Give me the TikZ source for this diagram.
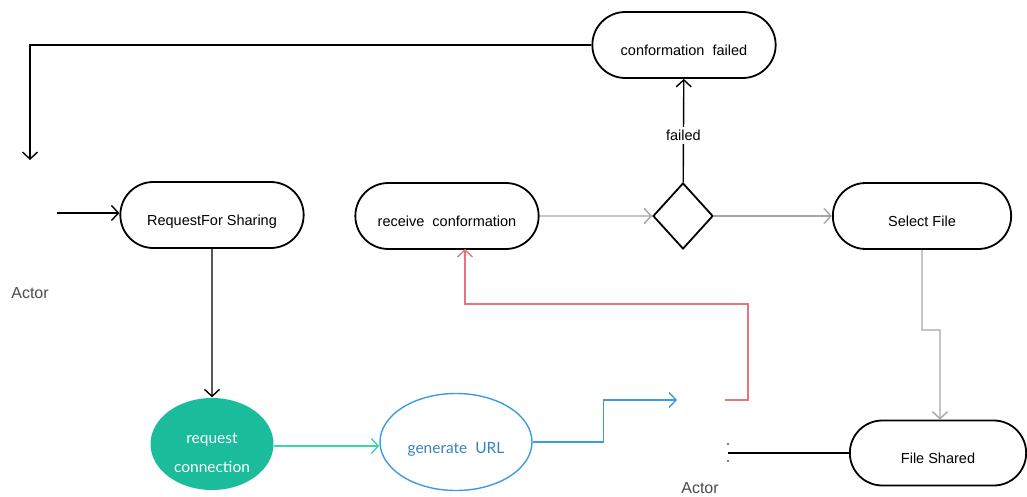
\documentclass[tikz,border=0pt]{standalone}
\usepackage{fontspec}
\setmainfont{Liberation Sans}
\newfontfamily\ellfont{Lato}
\usetikzlibrary{arrows.meta,positioning,shapes.misc,shapes.geometric}

\definecolor{tealfill}{HTML}{1ABC9C}
\definecolor{tealline}{HTML}{3DD6A8}
\definecolor{urlblue}{HTML}{3D9BE0}
\definecolor{urlred}{HTML}{E8737A}
\definecolor{flowgray}{HTML}{A6A6A6}

\begin{document}
\begin{tikzpicture}[
    x = 1pt, y = -1pt, % pixel grid
    > = {Straight Barb[length=7pt,width=15pt]}, % open arrow head
    line width = 1.4pt, % line style
    font = \fontsize{14.5}{17}\selectfont
    ]

    \tikzset{
    activity/.style = {rounded rectangle, draw = black, line width = 1.8pt,
        minimum width = 190pt, minimum height = 66pt,
        text height = 21pt, text depth = 0pt},
    usecase/.style = {ellipse, minimum width = 123pt, minimum height = 92pt,
        align = center, font = \ellfont\fontsize{15.5}{29}\selectfont},
    choice/.style = {diamond, draw = black, line width = 1.8pt, minimum width = 60pt,
        minimum height = 66pt, inner sep = 0pt},
    actorname/.style = {font = \fontsize{16}{18}\selectfont, text = black!70}
    }
    \useasboundingbox (0,0) rectangle (1027,497);

    % activities
    \node[activity] (failedbox) at (684,45) {conformation\ \ failed};
    \node[activity] (request) at (212,215) {RequestFor Sharing};
    \node[activity] (receive) at (447,216) {receive\ \ conformation};
    \node[choice] (check) at (683,216) {};
    \node[activity, minimum width = 185pt] (select) at (922,216) {Select File};
    \node[activity, minimum width = 183pt, minimum height = 65pt] (shared) at (938,453) {File Shared};

    % use cases
    \node[usecase, fill = tealfill, text = white, text height = 57pt] (connect) at (212,444) {request\\connection};
    \node[usecase, draw = urlblue, minimum width = 152pt, minimum height = 97pt,
        text height = 26pt, text = urlblue!85!black] (url) at (456,442) {generate\ \ URL};

    % actors
    \node[actorname] (actorA) at (30,293) {Actor};
    \node[actorname] (actorB) at (700,488) {Actor};
    \coordinate (actAtop) at (30,160);
    \coordinate (actAout) at (57,213);
    \coordinate (actBin) at (677,400);
    \coordinate (actBout) at (725,400);
    \coordinate (actBside) at (728,453);

    % flows
    \draw[->] (failedbox.west) -| (actAtop);
    \draw[->] (actAout) -- (actAout -| request.west);
    \draw[->] (request) -- (connect);
    \draw[->, tealline] (connect.east |- 0,446) -- (url.west |- 0,446);
    \draw[->, urlblue] (url.east) -- ++(71,0) |- (actBin);
    \draw[->, urlred] (actBout) -- ++(23,0) |- (465,304) -- (465,249);
    \draw[->, flowgray] (receive) -- (check.west);
    \draw[->, flowgray] (check) -- (select);
    \draw[->] (check) -- node[pos = 0.45, fill = white, inner sep = 3pt]{failed} (failedbox);
    \draw[->, flowgray] (select) -- (922,330) -| (shared.north -| 940,0);
    \draw (shared.west) -- (actBside);
    \fill (728,444) circle (0.8pt) (728,461) circle (0.8pt);
\end{tikzpicture}
\end{document}
